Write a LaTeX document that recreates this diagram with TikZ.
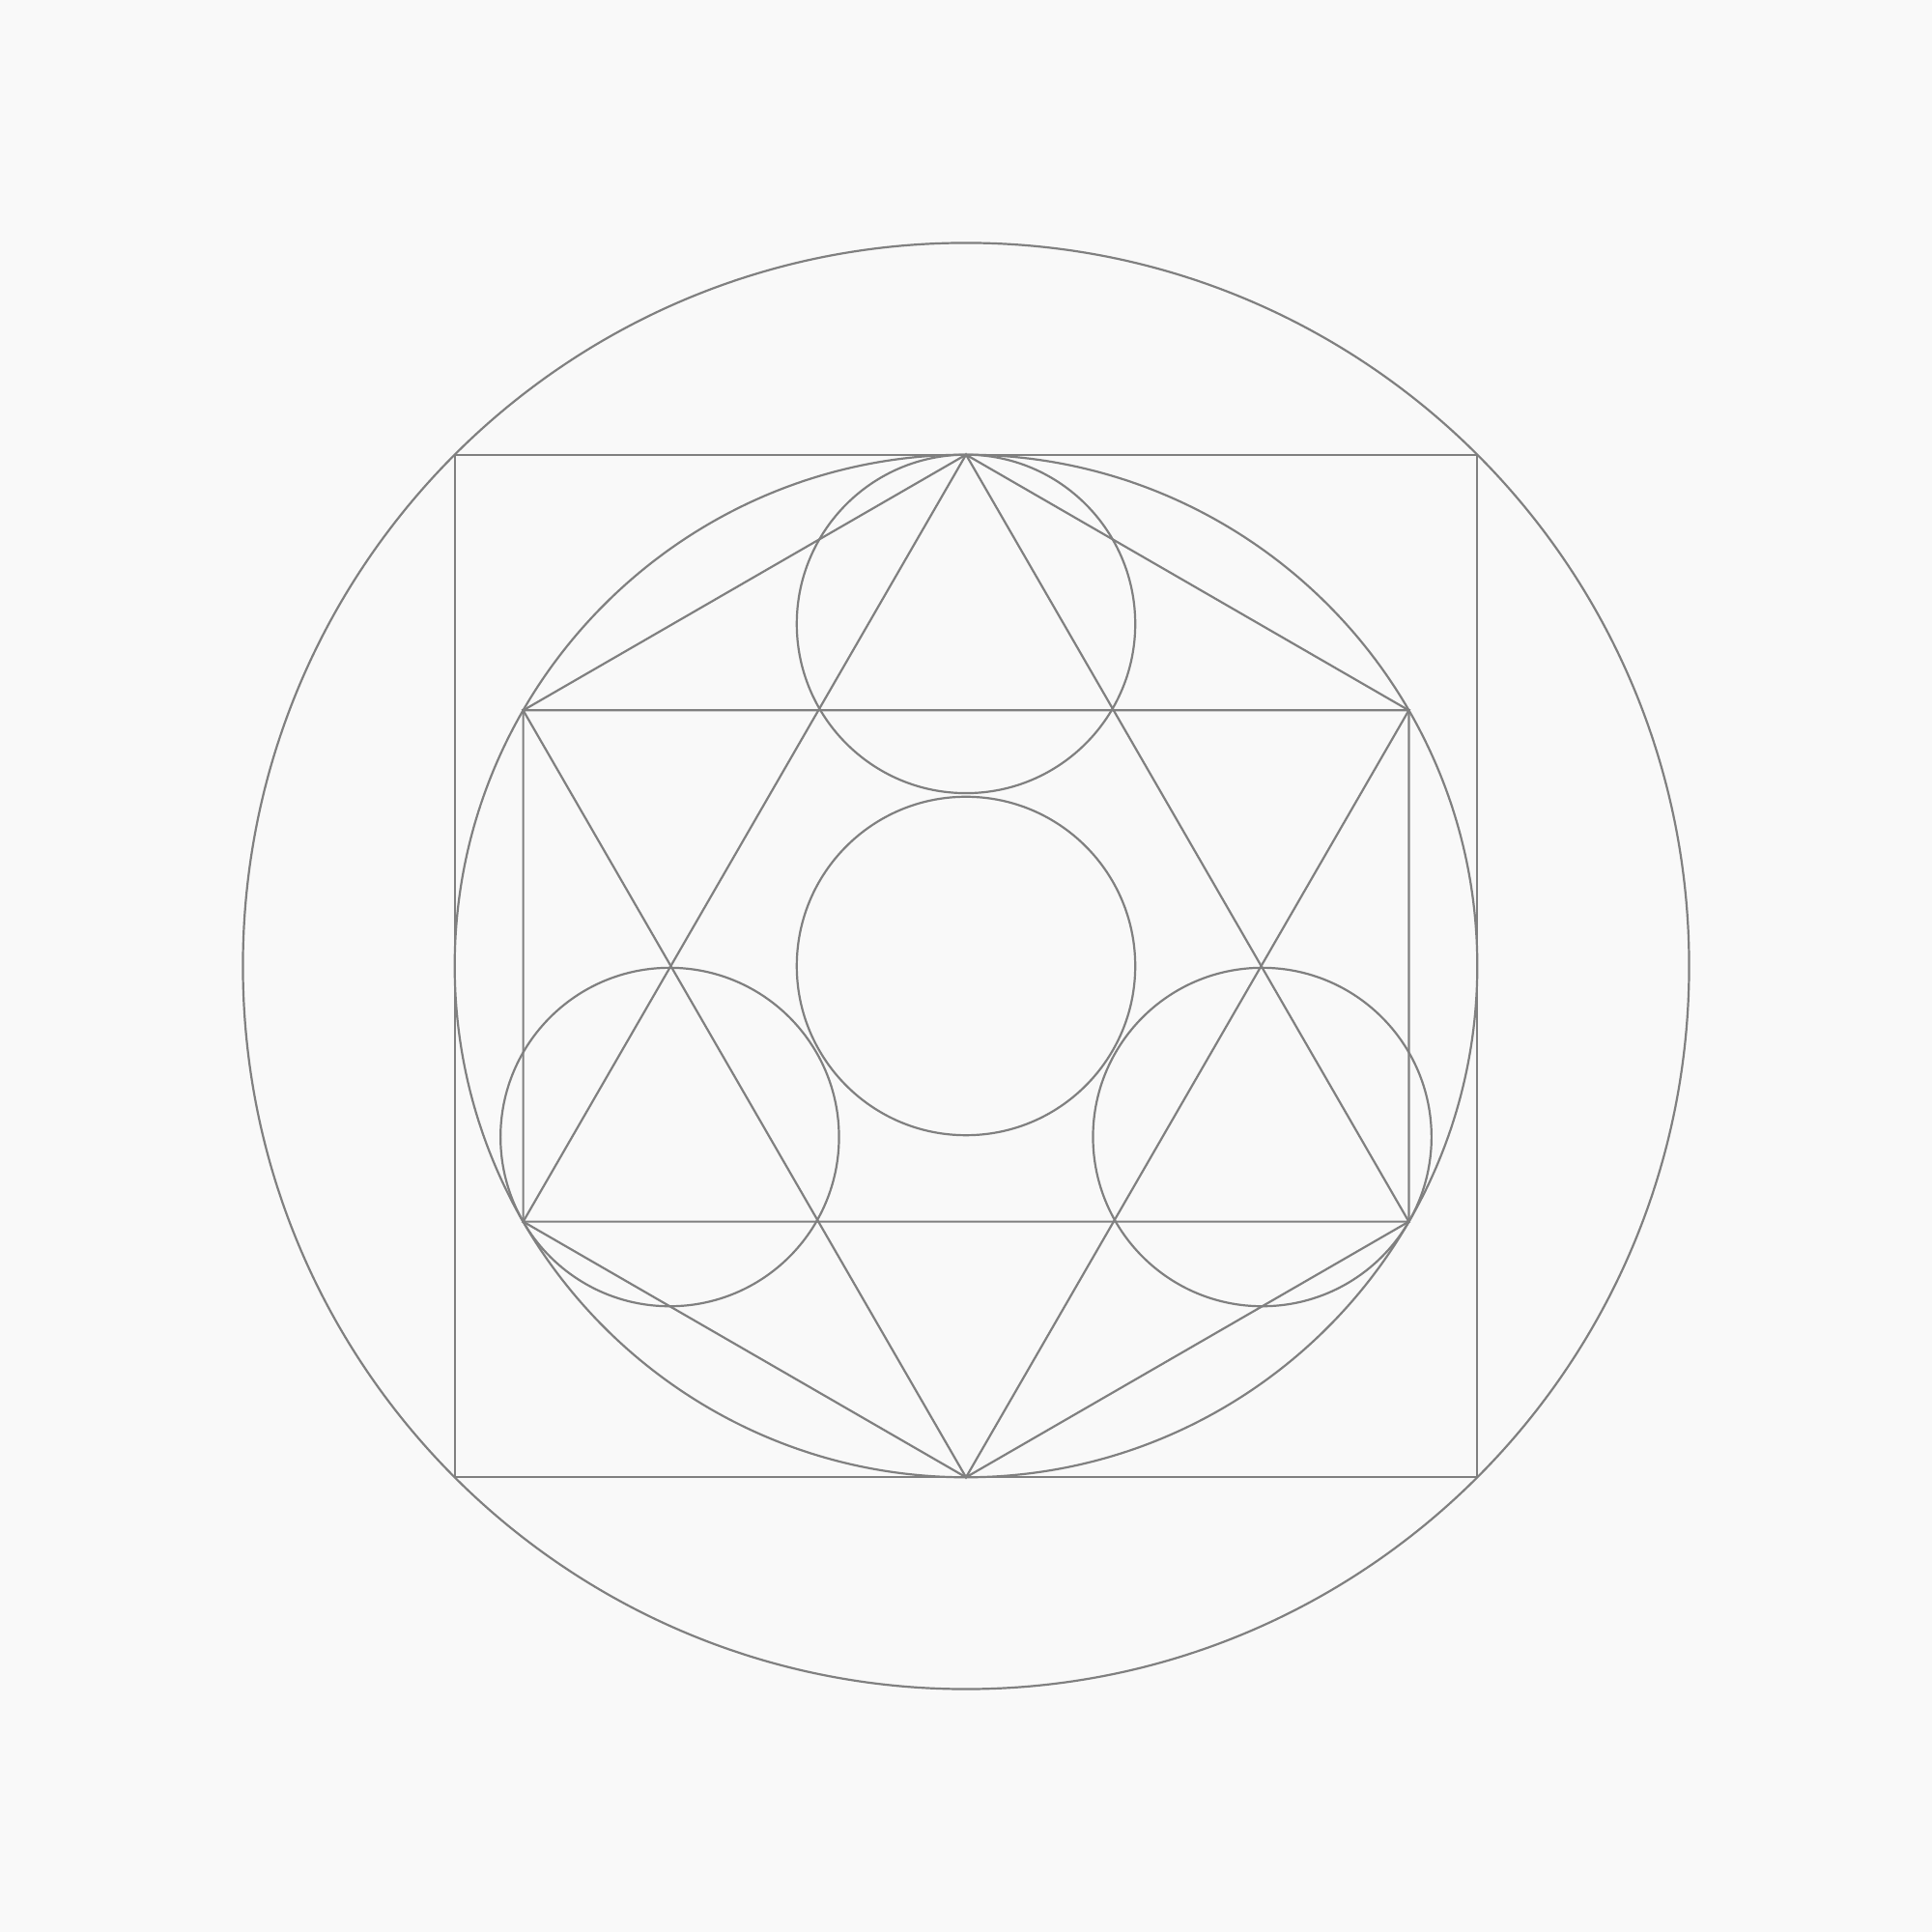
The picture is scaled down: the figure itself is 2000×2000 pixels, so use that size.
\documentclass[tikz,border=0pt]{standalone}
\usetikzlibrary{calc}
\definecolor{bgc}{HTML}{F9F9F9}
\definecolor{ln}{HTML}{808080}
\begin{document}
\begin{tikzpicture}[x=1pt,y=1pt,geo/.style={draw=ln,line width=2.2pt}]
\fill[bgc] (0,0) rectangle (2000,2000);
\useasboundingbox (0,0) rectangle (2000,2000);
\def\R{529.3}
\def\r{175.2}
\coordinate (c) at (1000,1000);
% outer circle through square corners
\draw[geo] (c) circle ({\R*sqrt(2)});
% square
\draw[geo] ($(c)+(-\R,-\R)$) rectangle ($(c)+(\R,\R)$);
% main circle
\draw[geo] (c) circle (\R);
% hexagon vertices
\foreach \a/\n in {90/t,30/ur,150/ul,210/ll,330/lr,270/b}
  \coordinate (\n) at ($(c)+(\a:\R)$);
% hexagram
\draw[geo] (t) -- (ll) -- (lr) -- cycle;
\draw[geo] (b) -- (ul) -- (ur) -- cycle;
% hexagon
\draw[geo] (t) -- (ur) -- (lr) -- (b) -- (ll) -- (ul) -- cycle;
% small circles
\draw[geo] (c) circle (\r);
\foreach \a in {90,210,330}
  \draw[geo] ($(c)+(\a:{\R-\r})$) circle (\r);
\end{tikzpicture}
\end{document}
